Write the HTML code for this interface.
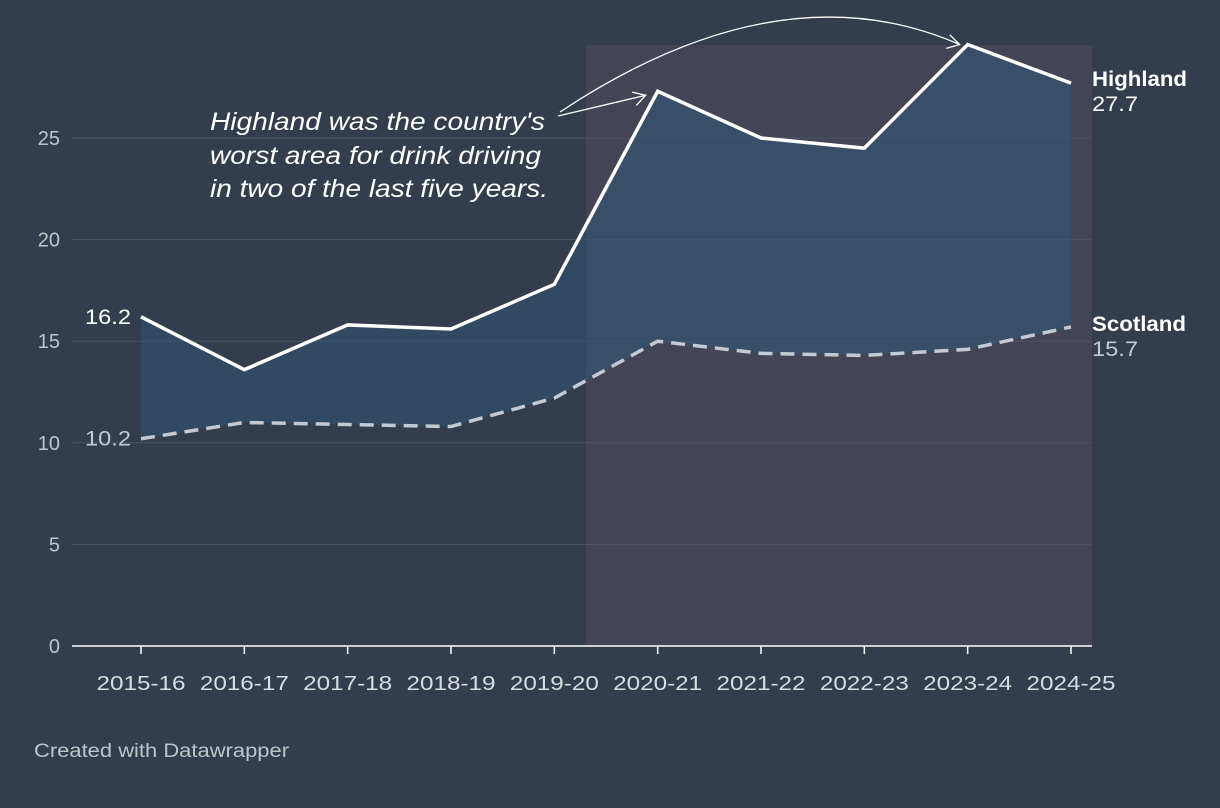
<!DOCTYPE html>
<html><head><meta charset="utf-8"><style>
body{margin:0;background:#333d4d;width:1220px;height:808px;overflow:hidden;font-family:"Liberation Sans",sans-serif}
svg{position:absolute;left:0;top:0}
</style></head><body>
<svg width="1220" height="808" id="c">
<rect x="0" y="0" width="1220" height="808" fill="#333d4d"/>
<g id="g"></g>
<text x="34" y="757" fill="#c0c4ca" font-size="19" textLength="255" lengthAdjust="spacingAndGlyphs">Created with Datawrapper</text>
</svg>
<script>
const categories=["2015-16","2016-17","2017-18","2018-19","2019-20","2020-21","2021-22","2022-23","2023-24","2024-25"];
const highland=[16.2,13.6,15.8,15.6,17.8,27.3,25.0,24.5,29.6,27.7];
const scotland=[10.2,11.0,10.9,10.8,12.2,15.0,14.4,14.3,14.6,15.7];
const yTicks=[0,5,10,15,20,25];
const NS="http://www.w3.org/2000/svg";
const g=document.getElementById('g');
const x=i=>141+i*(1071-141)/(categories.length-1);
const y=v=>646-v*20.32;
function mk(t,a,txt){const e=document.createElementNS(NS,t);for(const k in a)e.setAttribute(k,a[k]);if(txt!==undefined)e.textContent=txt;g.appendChild(e);return e;}
let r=mk('rect',{x:586,y:45,width:506,height:601,fill:'#434557'});


yTicks.forEach(v=>{
 if(v>0){let l=mk('line',{x1:72,x2:1092,y1:y(v),y2:y(v),stroke:'#4c5565','stroke-width':1});
 
 }
 let t=mk('text',{x:60,y:y(v)+7,fill:'#c0c4ca','font-size':20,'text-anchor':'end'},String(v));
 
 
});
let area="M"+highland.map((v,i)=>x(i)+","+y(v)).join("L")+"L"+scotland.map((v,i)=>x(i)+","+y(v)).reverse().join("L")+"Z";
let a=mk('path',{d:area,fill:'#2f5878','fill-opacity':0.5});


let ax=mk('line',{x1:72,x2:1092,y1:646,y2:646,stroke:'#fff','stroke-width':1.5});


categories.forEach((c,i)=>{
 let tk=mk('line',{x1:x(i),x2:x(i),y1:646,y2:654,stroke:'#fff','stroke-width':1.5});
 
 
 let t=mk('text',{x:x(i),y:690,fill:'#d8dbe0','font-size':20,'text-anchor':'middle',textLength:89,lengthAdjust:'spacingAndGlyphs'},c);
 
 
});
let sl=mk('polyline',{points:scotland.map((v,i)=>x(i)+","+y(v)).join(" "),fill:'none',stroke:'#c3cad3','stroke-width':3.5,'stroke-dasharray':'14 8'});


let hl=mk('polyline',{points:highland.map((v,i)=>x(i)+","+y(v)).join(" "),fill:'none',stroke:'#fff','stroke-width':3.5,'stroke-linejoin':'miter'});


const n=categories.length-1;
function lab(tx,xx,yy,col,bold,anchor,name,len){let o={x:xx,y:yy,fill:col,'font-size':21,'font-weight':bold?'bold':'normal','text-anchor':anchor||'start'};
 if(len){o.textLength=len;o.lengthAdjust='spacingAndGlyphs';}
 let t=mk('text',o,tx);
 
 }
lab("Highland",1092,y(highland[n])+3,'#fff',true,'start','highland-label',95);
lab(String(highland[n]),1092,y(highland[n])+28,'#fff',false,'start','highland-end-value',46);
lab("Scotland",1092,y(scotland[n])+4,'#fff',true,'start','scotland-label',94);
lab(String(scotland[n]),1092,y(scotland[n])+29,'#c3cad3',false,'start','scotland-end-value',46);
lab(String(highland[0]),131,y(highland[0])+7,'#fff',false,'end','highland-start-value',46);
lab(String(scotland[0]),131,y(scotland[0])+7,'#c3cad3',false,'end','scotland-start-value',46);
[["Highland was the country's",130,335],["worst area for drink driving",164,331],["in two of the last five years.",197,338]].forEach(([s,yy,len])=>{
 let t=mk('text',{x:210,y:yy,fill:'#fff','font-size':25,'font-style':'italic',textLength:len,lengthAdjust:'spacingAndGlyphs'},s);
 
 });
let p1=mk('path',{d:`M558,116 L${x(5)-12},${y(highland[5])+4}`,stroke:'#fff','stroke-width':1.3,fill:'none'});


let p2=mk('path',{d:`M560,112 Q780,-34 ${x(8)-8},${y(highland[8])}`,stroke:'#fff','stroke-width':1.3,fill:'none'});


[[x(5)-12,y(highland[5])+4,-0.3],[x(8)-8,y(highland[8]),0.25]].forEach(([ex,ey,ang])=>{
 let h=mk('path',{d:'M-12,-7 L0,0 L-12,7',stroke:'#fff','stroke-width':1.3,fill:'none',transform:`translate(${ex},${ey}) rotate(${ang*57.3})`});
 
 });
</script>
</body></html>
